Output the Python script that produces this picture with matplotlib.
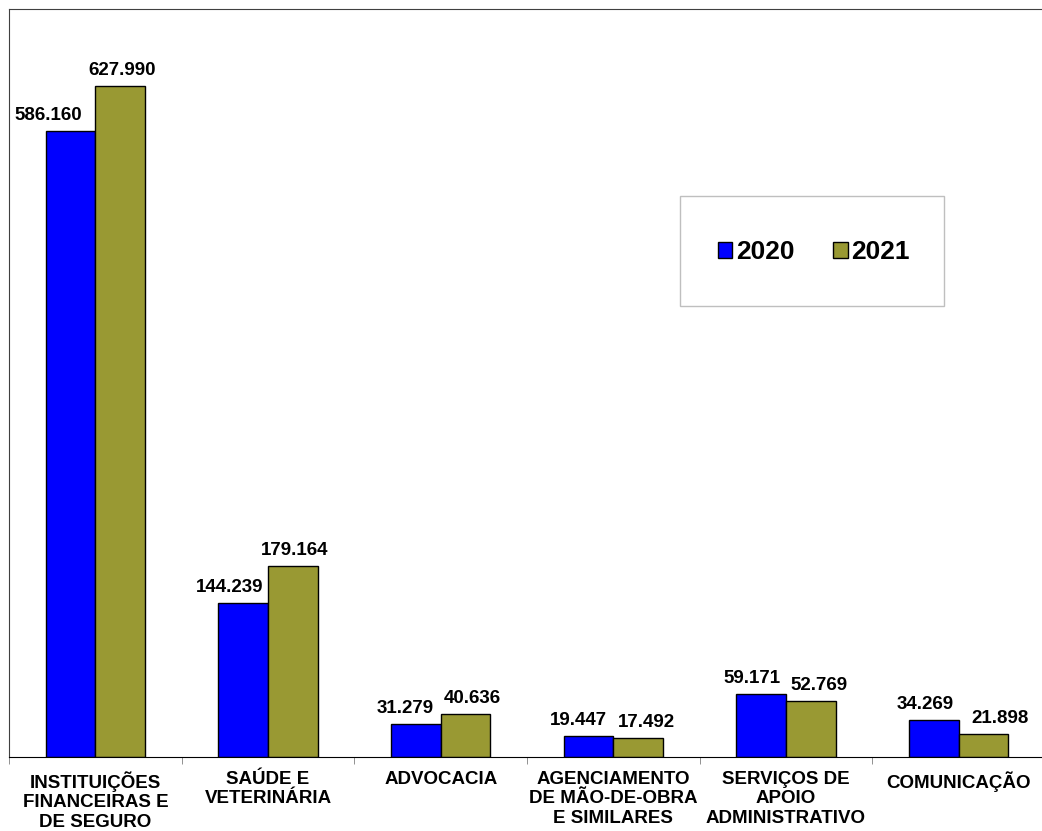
import numpy as np
import matplotlib
matplotlib.use("Agg")
import matplotlib.pyplot as plt
from matplotlib.ticker import FixedLocator
from matplotlib.patches import Rectangle

plt.rcParams['font.family'] = ['Liberation Sans', 'DejaVu Sans']

# data (thousands)
categories = ["INSTITUIÇÕES\nFINANCEIRAS E\nDE SEGURO", "SAÚDE E\nVETERINÁRIA", "ADVOCACIA",
              "AGENCIAMENTO\nDE MÃO-DE-OBRA\nE SIMILARES", "SERVIÇOS DE\nAPOIO\nADMINISTRATIVO",
              "COMUNICAÇÃO"]
v2020 = [586.160, 144.239, 31.279, 19.447, 59.171, 34.269]
v2021 = [627.990, 179.164, 40.636, 17.492, 52.769, 21.898]

fig = plt.figure(figsize=(10.42, 8.31), dpi=100)
ax = fig.add_axes([9/1042, 74/831, 1036/1042, 748/831])

x = np.arange(len(categories))
w = 0.287
ax.bar(x - w/2, v2020, w, color="#0000FF", edgecolor="black", linewidth=1, label="2020")
ax.bar(x + w/2, v2021, w, color="#999933", edgecolor="black", linewidth=1, label="2021")

ax.set_xlim(-0.5, len(categories) - 0.5)
ax.set_ylim(0, 700)

# value labels, nudged sideways like the original
shift20 = [-22, -14, -11, -10, -9, -9]
shift21 = [2, 2, 7, 8, 8, 17]
for i, (a, b) in enumerate(zip(v2020, v2021)):
    ax.annotate(f"{a:.3f}", (x[i] - w/2, a), xytext=(shift20[i], 7), textcoords="offset pixels",
                ha="center", va="bottom", fontsize=13.5, fontweight="bold")
    ax.annotate(f"{b:.3f}", (x[i] + w/2, b), xytext=(shift21[i], 7), textcoords="offset pixels",
                ha="center", va="bottom", fontsize=13.5, fontweight="bold")

ax.set_xticks(x)
ax.set_xticklabels(categories, fontsize=13.5, fontweight="bold", linespacing=1.2)
ax.tick_params(axis="x", which="major", length=0, pad=10)
ax.xaxis.set_minor_locator(FixedLocator(np.arange(-0.5, len(categories), 1)))
ax.tick_params(axis="x", which="minor", length=5, color="#808080")
ax.set_yticks([])

ax.spines["right"].set_visible(False)
ax.spines["top"].set_color("#404040")
ax.spines["left"].set_color("#404040")
ax.spines["bottom"].set_color("black")

# legend box
fig.patches.append(Rectangle((680/1042, (831-306)/831), 264/1042, 110/831,
                             transform=fig.transFigure, facecolor="white",
                             edgecolor="#BFBFBF", linewidth=1, zorder=5))
leg = fig.legend(loc="center", bbox_to_anchor=(814/1042, (831-252)/831), ncol=2,
                 prop={"weight": "bold", "size": 19}, frameon=False,
                 handlelength=0.55, handleheight=0.55, handletextpad=0.15, columnspacing=1.45,
                 borderpad=0, borderaxespad=0)
leg.set_zorder(6)

fig.savefig("out.png", dpi=100)
